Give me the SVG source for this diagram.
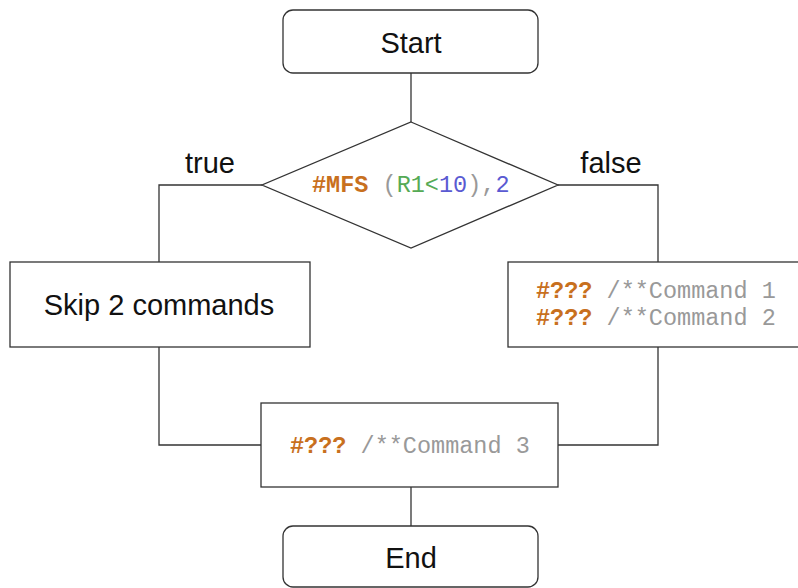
<svg xmlns="http://www.w3.org/2000/svg" width="798" height="588" viewBox="0 0 798 588">
<style>
.box{fill:#fff;stroke:#333;stroke-width:1.3}
.ln{fill:none;stroke:#333;stroke-width:1.3}
.t{font-family:"Liberation Sans",Arial,sans-serif;font-size:29px;fill:#111}
.c{font-family:"Liberation Mono","Courier New",monospace;font-size:23.5px;fill:#999}
.k{fill:#c8701e;font-weight:bold}
.g{fill:#55aa55}
.b{fill:#5a5ad2}
</style>
<rect width="798" height="588" fill="#fff"/>
<g id="connectors">
<path class="ln" d="M411 73V122"/>
<path class="ln" d="M262 185H159V262"/>
<path class="ln" d="M558 185H658V262"/>
<path class="ln" d="M159 347V445H261"/>
<path class="ln" d="M658 347V445H558"/>
<path class="ln" d="M411 487V526"/>
</g>
<g id="start">
<rect class="box" x="283" y="10" width="255" height="63" rx="10"/>
<text class="t" x="411" y="53" text-anchor="middle">Start</text>
</g>
<g id="decision">
<polygon class="box" points="411,122 558,185 411,248 262,185"/>
<text class="c" x="312" y="192"><tspan class="k">#MFS</tspan> (<tspan class="g">R1&lt;</tspan><tspan class="b">10</tspan>),<tspan class="b">2</tspan></text>
</g>
<g id="label-true"><text class="t" x="210" y="173" text-anchor="middle">true</text></g>
<g id="label-false"><text class="t" x="611" y="173" text-anchor="middle">false</text></g>
<g id="skip">
<rect class="box" x="10" y="262" width="300" height="85"/>
<text class="t" x="159" y="315" text-anchor="middle">Skip 2 commands</text>
</g>
<g id="cmds">
<rect class="box" x="508" y="262" width="300" height="85"/>
<text class="c" x="536" y="298"><tspan class="k">#???</tspan> /**Command 1</text>
<text class="c" x="536" y="325"><tspan class="k">#???</tspan> /**Command 2</text>
</g>
<g id="cmd3">
<rect class="box" x="261" y="403" width="297" height="84"/>
<text class="c" x="290" y="453"><tspan class="k">#???</tspan> /**Command 3</text>
</g>
<g id="end">
<rect class="box" x="283" y="526" width="255" height="61" rx="10"/>
<text class="t" x="411" y="568" text-anchor="middle">End</text>
</g>
</svg>
